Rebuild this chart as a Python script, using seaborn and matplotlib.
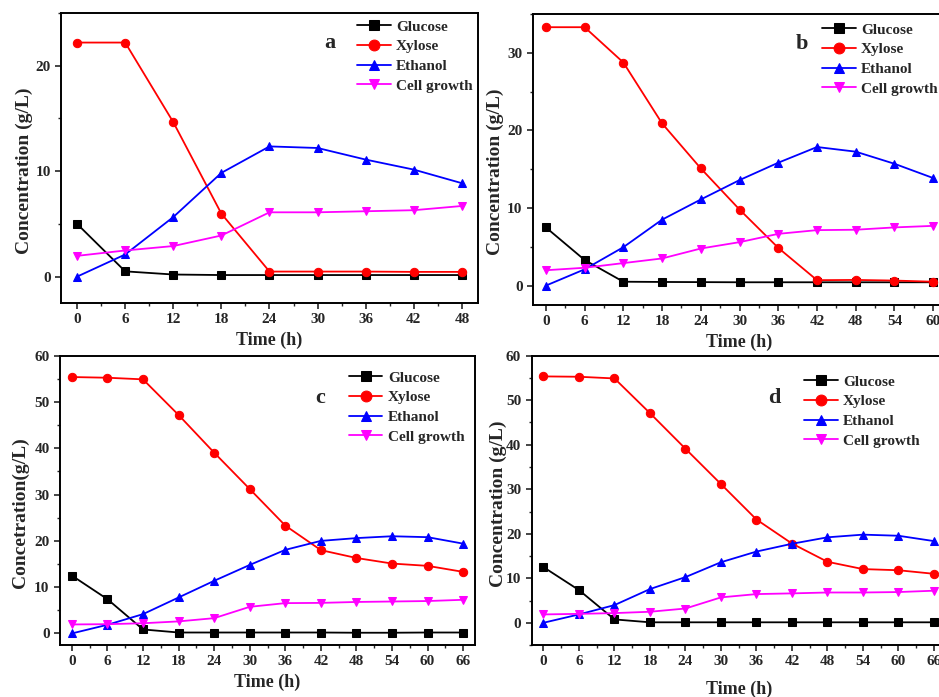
import matplotlib
matplotlib.use("Agg")
import matplotlib.pyplot as plt
from matplotlib.ticker import MultipleLocator
import seaborn as sns
import pandas as pd

# ---- data (g/L) ----
time_a = [0, 6, 12, 18, 24, 30, 36, 42, 48]
glucose_a = [5.0, 0.5, 0.2, 0.15, 0.15, 0.15, 0.15, 0.15, 0.15]
xylose_a = [22.2, 22.2, 14.65, 5.97, 0.48, 0.48, 0.48, 0.45, 0.45]
ethanol_a = [0.0, 2.1, 5.65, 9.84, 12.35, 12.2, 11.1, 10.15, 8.86]
cell_a = [1.97, 2.48, 2.9, 3.9, 6.1, 6.1, 6.2, 6.3, 6.7]

time_b = [0, 6, 12, 18, 24, 30, 36, 42, 48, 54, 60]
glucose_b = [7.5, 3.3, 0.5, 0.47, 0.45, 0.43, 0.43, 0.43, 0.43, 0.43, 0.43]
xylose_b = [33.3, 33.3, 28.75, 20.9, 15.1, 9.8, 4.86, 0.7, 0.73, 0.65, 0.5]
ethanol_b = [0.0, 2.1, 4.95, 8.5, 11.1, 13.6, 15.84, 17.86, 17.26, 15.7, 13.86]
cell_b = [1.98, 2.3, 2.9, 3.5, 4.78, 5.6, 6.67, 7.15, 7.2, 7.5, 7.7]

time_c = [0, 6, 12, 18, 24, 30, 36, 42, 48, 54, 60, 66]
glucose_c = [12.5, 7.4, 0.86, 0.2, 0.2, 0.2, 0.2, 0.2, 0.15, 0.15, 0.2, 0.2]
xylose_c = [55.4, 55.25, 54.9, 47.2, 39.06, 31.2, 23.3, 18.0, 16.3, 15.1, 14.6, 13.3]
ethanol_c = [0.0, 1.87, 4.17, 7.77, 11.37, 14.8, 18.06, 20.0, 20.6, 21.0, 20.8, 19.4]
cell_c = [1.94, 2.0, 2.2, 2.6, 3.3, 5.75, 6.55, 6.6, 6.8, 6.9, 7.0, 7.27]

time_d = [0, 6, 12, 18, 24, 30, 36, 42, 48, 54, 60, 66]
glucose_d = [12.5, 7.34, 0.75, 0.1, 0.1, 0.1, 0.1, 0.1, 0.1, 0.1, 0.1, 0.1]
xylose_d = [55.36, 55.28, 54.9, 47.1, 39.1, 31.16, 23.2, 17.8, 13.7, 12.06, 11.8, 11.0]
ethanol_d = [0.0, 1.87, 3.97, 7.57, 10.26, 13.6, 16.0, 17.75, 19.2, 19.8, 19.55, 18.35]
cell_d = [1.87, 2.0, 2.17, 2.47, 3.2, 5.7, 6.44, 6.6, 6.8, 6.8, 6.9, 7.2]

series_names = ["Glucose", "Xylose", "Ethanol", "Cell growth"]
series_colors = ["black", "red", "blue", "magenta"]
series_markers = ["s", "o", "^", "v"]

sns.set_style("ticks")
plt.rcParams["font.family"] = ["Liberation Serif", "DejaVu Serif"]
plt.rcParams["font.weight"] = "bold"
plt.rcParams["axes.labelweight"] = "bold"

fig = plt.figure(figsize=(9.39, 6.97), dpi=100)

panels = [
    # tag, time, values, axes rect, xlim, ylim, ylabel, ylabel xy, legend xy, tag xy, xlabelpad
    ("a", time_a, [glucose_a, xylose_a, ethanol_a, cell_a],
     [0.065, 0.5653, 0.444, 0.416], (-2, 50), (-2.5, 25), "Concentration (g/L)",
     (-0.067, 0.455), (0.71, 0.976), (0.645, 0.897), 4),
    ("b", time_b, [glucose_b, xylose_b, ethanol_b, cell_b],
     [0.5676, 0.5624, 0.44, 0.4175], (-2, 62), (-2.5, 35), "Concentration (g/L)",
     (-0.070, 0.457), (0.70, 0.969), (0.651, 0.897), 4),
    ("c", time_c, [glucose_c, xylose_c, ethanol_c, cell_c],
     [0.0639, 0.0746, 0.442, 0.415], (-2, 68), (-2.5, 60), "Concetration(g/L)",
     (-0.075, 0.456), (0.696, 0.947), (0.627, 0.854), 4),
    ("d", time_d, [glucose_d, xylose_d, ethanol_d, cell_d],
     [0.5662, 0.0746, 0.441, 0.415], (-2, 68), (-5, 60), "Concentration (g/L)",
     (-0.060, 0.487), (0.658, 0.933), (0.585, 0.854), 9),
]

for tag, t, values, rect, xlim, ylim, ylabel, ylab_xy, leg_xy, tag_xy, xpad in panels:
    ax = fig.add_axes(rect)
    for name, vals, col, mk in zip(series_names, values, series_colors, series_markers):
        df = pd.DataFrame({"time": t, "conc": vals})
        sns.lineplot(data=df, x="time", y="conc", ax=ax, color=col, marker=mk,
                     markersize=6, markeredgecolor=col, linewidth=1.3, label=name)

    ax.set_xlim(*xlim)
    ax.set_ylim(*ylim)
    ax.xaxis.set_major_locator(MultipleLocator(6))
    ax.xaxis.set_minor_locator(MultipleLocator(3))
    ax.yaxis.set_major_locator(MultipleLocator(10))
    ax.yaxis.set_minor_locator(MultipleLocator(5))
    ax.tick_params(which="major", direction="out", length=4, width=1.2, labelsize=11)
    ax.tick_params(which="minor", direction="out", length=2.5, width=1)
    for lbl in ax.get_xticklabels() + ax.get_yticklabels():
        lbl.set_fontweight("bold")
    for sp in ax.spines.values():
        sp.set_visible(True)
        sp.set_linewidth(1.4)
        sp.set_color("black")

    ax.set_xlabel("Time (h)", fontsize=13, fontweight="bold", labelpad=xpad)
    ax.set_ylabel(ylabel, fontsize=14, fontweight="bold")
    ax.yaxis.set_label_coords(*ylab_xy)

    ax.text(tag_xy[0], tag_xy[1], tag, transform=ax.transAxes, fontsize=16,
            fontweight="bold", ha="center", va="center")
    ax.legend(loc="upper left", bbox_to_anchor=leg_xy, frameon=False,
              prop={"size": 11, "weight": "bold"}, handlelength=2.2,
              handletextpad=0.35, labelspacing=0.39, borderpad=0,
              borderaxespad=0, markerscale=1.3)

fig.savefig("out.png", dpi=100)
